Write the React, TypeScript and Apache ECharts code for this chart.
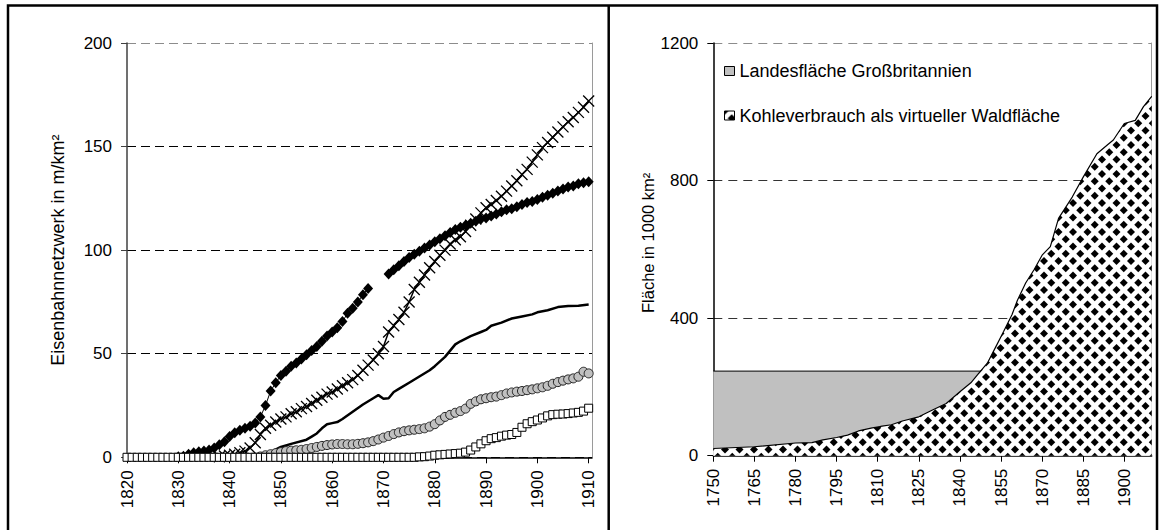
import React, { useEffect, useRef } from "react";
import * as echarts from "echarts";

// ---------- Left chart: railway network density (m/km²) ----------
const RAIL_YEARS = [
  1820, 1821, 1822, 1823, 1824, 1825, 1826, 1827, 1828, 1829,
  1830, 1831, 1832, 1833, 1834, 1835, 1836, 1837, 1838, 1839,
  1840, 1841, 1842, 1843, 1844, 1845, 1846, 1847, 1848, 1849,
  1850, 1851, 1852, 1853, 1854, 1855, 1856, 1857, 1858, 1859,
  1860, 1861, 1862, 1863, 1864, 1865, 1866, 1867, 1868, 1869,
  1870, 1871, 1872, 1873, 1874, 1875, 1876, 1877, 1878, 1879,
  1880, 1881, 1882, 1883, 1884, 1885, 1886, 1887, 1888, 1889,
  1890, 1891, 1892, 1893, 1894, 1895, 1896, 1897, 1898, 1899,
  1900, 1901, 1902, 1903, 1904, 1905, 1906, 1907, 1908, 1909,
  1910,
];
const RAIL_X_TICKS = [1820, 1830, 1840, 1850, 1860, 1870, 1880, 1890, 1900, 1910];
const RAIL_Y_TICKS = [0, 50, 100, 150, 200];

const DIAMONDS: (number | null)[] = [
  null, null, null, null, null, null, null, null, null, null,
  0.3, 0.5, 1.5, 2.2, 2.7, 3, 3.5, 4.5, 6, 7.5,
  10, 11.8, 13, 14, 15, 16.5, 19.5, 25, 32, 36,
  39.5, 41.5, 44, 45.5, 47.5, 49.5, 51.5, 53.5, 56, 58.5,
  60.5, 62.5, 65.5, 69.5, 72, 75, 78.5, 81.5, null, null,
  null, 88.5, 90.5, 92.5, 94.5, 96.5, 98, 99.5, 101, 102.5,
  104, 105.5, 107, 108.5, 110, 111, 112, 113, 114, 115,
  115.5, 116.5, 117.5, 118.5, 119.5, 120, 121, 122, 123, 123.5,
  124.5, 125.5, 126.5, 127.5, 128.5, 129.5, 130.5, 131, 132, 132.5,
  133,
];

const CROSSES: (number | null)[] = [
  null, null, null, null, null, null, null, null, null, null,
  null, null, null, null, null, null, null, null, 0.3, 0.6,
  1, 1.5, 2.2, 3, 4.5, 7, 11, 14, 15.5, 17,
  18.5, 19.5, 21, 22, 23.5, 24.5, 26, 27.5, 29, 30.5,
  31.5, 33, 34.5, 36, 37.5, 39.5, 42, 44.5, 47, 50,
  53.5, 60.5, 63.5, 66.5, 70, 75, 81, 84.5, 88, 91.5,
  94.5, 97.5, 100, 103, 105, 106.5, 109, 112, 115, 118,
  120.5, 122, 124, 126, 128.5, 131, 133.5, 136.5, 139, 142.5,
  146, 149.5, 152, 154.5, 157, 159.5, 162, 164, 166.5, 169,
  172,
];

// solid line without markers: [year, value]
const SOLID_LINE: [number, number][] = [
  [1844, 0], [1846, 0.8], [1848, 2.5], [1850, 5], [1852, 6.5], [1855, 8.5],
  [1856, 10], [1857, 11.5], [1858, 14], [1859, 16], [1860, 16.5], [1861, 17],
  [1862, 18.5], [1864, 22], [1866, 25.5], [1868, 28.5], [1869, 30], [1870, 28.3],
  [1871, 28.5], [1872, 31.5], [1873, 33], [1875, 36], [1877, 39], [1879, 42],
  [1880, 44], [1882, 48.5], [1883, 51.5], [1884, 54.5], [1885, 56], [1887, 58.5],
  [1889, 60.5], [1890, 61.5], [1891, 63.5], [1893, 65], [1895, 67], [1897, 68],
  [1899, 69], [1900, 70], [1902, 71], [1904, 72.5], [1906, 73], [1908, 73.2],
  [1910, 73.8],
];

const CIRCLES: (number | null)[] = [
  null, null, null, null, null, null, null, null, null, null,
  null, null, null, null, null, null, null, null, null, null,
  null, null, null, null, null, null, 0.4, 1, 1.5, 2,
  2.5, 3, 3.2, 3.4, 3.6, 4, 4.5, 5, 5.5, 5.9,
  6.2, 6.4, 6.4, 6.3, 6.3, 6.5, 6.8, 7.2, 7.8, 8.6,
  9.5, 10.3, 11.2, 12, 12.6, 13, 13.3, 13.6, 14, 14.8,
  16, 17.8, 19.5, 20.5, 21.5, 22.3, 23.5, 25.8, 27, 28,
  28.5, 29, 29.3, 30, 30.8, 31.3, 31.7, 32, 32.4, 32.8,
  33.3, 33.8, 34.5, 35.5, 36.3, 37, 37.6, 38.1, 38.9, 41.3,
  40.5,
];

const SQUARES: (number | null)[] = [
  0, 0, 0, 0, 0, 0, 0, 0, 0, 0,
  0, 0, 0, 0, 0, 0, 0, 0, 0, 0,
  0, 0, 0, 0, 0, 0, 0, 0, 0, 0,
  0, 0, 0, 0, 0, 0, 0, 0, 0, 0,
  0, 0, 0, 0, 0, 0, 0, 0, 0, 0,
  0, 0, 0, 0, 0, 0, 0, 0.2, 0.3, 0.6,
  1, 1.2, 1.4, 1.6, 1.8, 2, 2.5, 3.5, 5, 6.5,
  8, 9, 9.5, 10.2, 10.7, 11, 12, 14.5, 16.2, 17.2,
  18, 19, 20, 20.6, 20.8, 20.9, 21.1, 21.4, 21.7, 22.3,
  23.7,
];

// ---------- Right chart: area (1000 km²) ----------
const AREA_X_TICKS = [1750, 1765, 1780, 1795, 1810, 1825, 1840, 1855, 1870, 1885, 1900];
const AREA_Y_TICKS = [0, 400, 800, 1200];
const LAND_AREA: [number, number][] = [[1750, 246], [1910, 246]];
const COAL_FOREST: [number, number][] = [
  [1750, 21], [1765, 26], [1780, 37], [1786, 38], [1790, 46], [1795, 53],
  [1799, 60], [1803, 72], [1808, 81], [1811, 85], [1815, 90], [1819, 101],
  [1825, 113], [1830, 133], [1835, 152], [1840, 186], [1844, 212], [1847, 241],
  [1850, 269], [1853, 315], [1856, 362], [1859, 410], [1861, 452], [1864, 502],
  [1867, 540], [1870, 583], [1873, 608], [1876, 690], [1881, 752], [1885, 810],
  [1890, 878], [1894, 905], [1896, 918], [1900, 966], [1904, 975], [1907, 1015],
  [1910, 1045],
];
const LEGEND_NAMES = ["Landesfläche Großbritannien", "Kohleverbrauch als virtueller Waldfläche"];

const FONT = "'Liberation Sans', Arial, sans-serif";

function pairs(vals: (number | null)[]) {
  return RAIL_YEARS.map((y, i) => [y, vals[i] == null ? "-" : vals[i]]);
}

// black diamonds on white, as a repeating SVG tile
function makePattern() {
  const size = 29;
  const step = size / 4;
  const r = 4.0;
  let polys = "";
  for (let i = -1; i <= 5; i++) {
    for (let j = -1; j <= 5; j++) {
      if ((i + j) % 2 !== 0) continue;
      const cx = i * step;
      const cy = j * step;
      polys += `<polygon points="${cx},${cy - r} ${cx + r},${cy} ${cx},${cy + r} ${cx - r},${cy}" fill="#000"/>`;
    }
  }
  const svg =
    `<svg xmlns="http://www.w3.org/2000/svg" width="${size}" height="${size}" viewBox="0 0 ${size} ${size}">` +
    `<rect width="${size}" height="${size}" fill="#fff"/>${polys}</svg>`;
  const url = "data:image/svg+xml;charset=utf-8," + encodeURIComponent(svg);
  return { image: url, repeat: "repeat", imageWidth: size, imageHeight: size } as any;
}

export default function App() {
  const ref = useRef<HTMLDivElement>(null);

  useEffect(() => {
    const chart = echarts.init(ref.current!, null, { renderer: "svg" });
    const pattern = makePattern();
    const labelBase = { color: "#000", fontFamily: FONT, fontSize: 17 };
    const fmt = (v: number) => String(v);

    const option: any = {
      animation: false,
      backgroundColor: "#fff",
      textStyle: { fontFamily: FONT },
      grid: [
        { left: 127, top: 43, width: 465, height: 414.3, containLabel: false },
        { left: 713.3, top: 43, width: 438.4, height: 412.7, containLabel: false },
      ],
      legend: {
        orient: "vertical",
        left: 724,
        top: 61,
        padding: 0,
        itemWidth: 10,
        itemHeight: 9,
        itemGap: 24.5,
        icon: "rect",
        data: LEGEND_NAMES,
        itemStyle: { borderColor: "#000", borderWidth: 1 },
        textStyle: { color: "#000", fontFamily: FONT, fontSize: 18, lineHeight: 20 },
      },
      xAxis: [
        {
          type: "value",
          gridIndex: 0,
          min: 1820,
          max: 1910.65,
          axisLine: { show: true, lineStyle: { color: "#000", width: 1.5 } },
          axisTick: { show: true, length: 6, customValues: RAIL_X_TICKS, lineStyle: { color: "#000" } },
          axisLabel: { ...labelBase, rotate: 90, margin: 13, customValues: RAIL_X_TICKS, formatter: fmt },
          splitLine: { show: false },
        },
        {
          type: "value",
          gridIndex: 1,
          min: 1750,
          max: 1910,
          axisLine: { show: true, lineStyle: { color: "#000", width: 1.5 } },
          axisTick: { show: true, length: 6, customValues: AREA_X_TICKS, lineStyle: { color: "#000" } },
          axisLabel: { ...labelBase, rotate: 90, margin: 13, customValues: AREA_X_TICKS, formatter: fmt },
          splitLine: { show: false },
        },
      ],
      yAxis: [
        {
          type: "value",
          gridIndex: 0,
          min: RAIL_Y_TICKS[0],
          max: RAIL_Y_TICKS[RAIL_Y_TICKS.length - 1],
          interval: 50,
          name: "Eisenbahnnetzwerk in m/km²",
          nameLocation: "middle",
          nameGap: 60,
          nameTextStyle: { color: "#000", fontFamily: FONT, fontSize: 18 },
          axisLine: { show: true, lineStyle: { color: "#404040", width: 1.5 } },
          axisTick: { show: true, length: 6, lineStyle: { color: "#404040" } },
          axisLabel: { ...labelBase, margin: 15, formatter: fmt },
          splitLine: {
            show: true,
            lineStyle: { color: ["#000", "#000", "#000", "#000", "#8c8c8c"], type: [9, 5], width: 1 },
          },
        },
        {
          type: "value",
          gridIndex: 0,
          position: "right",
          min: 0,
          max: 200,
          axisLine: { show: true, lineStyle: { color: "#9a9a9a", width: 1 } },
          axisTick: { show: false },
          axisLabel: { show: false },
          splitLine: { show: false },
        },
        {
          type: "value",
          gridIndex: 1,
          min: AREA_Y_TICKS[0],
          max: AREA_Y_TICKS[AREA_Y_TICKS.length - 1],
          interval: 400,
          name: "Fläche in 1000 km²",
          nameLocation: "middle",
          nameGap: 57,
          nameTextStyle: { color: "#000", fontFamily: FONT, fontSize: 16.5, padding: [0, 0, 0, 13] },
          axisLine: { show: true, lineStyle: { color: "#000", width: 1.5 } },
          axisTick: { show: true, length: 6, lineStyle: { color: "#000" } },
          axisLabel: { ...labelBase, margin: 15, formatter: fmt },
          splitLine: {
            show: true,
            lineStyle: { color: ["#000", "#333", "#333", "#8c8c8c"], type: [9, 6], width: 1 },
          },
        },
        {
          type: "value",
          gridIndex: 1,
          position: "right",
          min: 0,
          max: 1200,
          axisLine: { show: true, lineStyle: { color: "#9a9a9a", width: 1 } },
          axisTick: { show: false },
          axisLabel: { show: false },
          splitLine: { show: false },
        },
      ],
      series: [
        {
          name: "diamonds",
          type: "line",
          xAxisIndex: 0,
          yAxisIndex: 0,
          data: pairs(DIAMONDS),
          showAllSymbol: true,
          symbol: "diamond",
          symbolSize: [10, 11],
          connectNulls: false,
          itemStyle: { color: "#000" },
          lineStyle: { color: "#000", width: 1 },
          z: 2,
        },
        {
          name: "crosses",
          type: "line",
          xAxisIndex: 0,
          yAxisIndex: 0,
          data: pairs(CROSSES),
          showAllSymbol: true,
          symbol: "path://M0,0L10,10M10,0L0,10",
          symbolSize: 11,
          itemStyle: { color: "none", borderColor: "#000", borderWidth: 1.3 },
          lineStyle: { color: "#000", width: 1.5 },
          z: 3,
        },
        {
          name: "solid",
          type: "line",
          xAxisIndex: 0,
          yAxisIndex: 0,
          data: SOLID_LINE,
          showSymbol: false,
          symbol: "none",
          lineStyle: { color: "#000", width: 2.5 },
          z: 4,
        },
        {
          name: "circles",
          type: "line",
          xAxisIndex: 0,
          yAxisIndex: 0,
          data: pairs(CIRCLES),
          showAllSymbol: true,
          symbol: "circle",
          symbolSize: 9,
          itemStyle: { color: "#c0c0c0", borderColor: "#222", borderWidth: 1 },
          lineStyle: { color: "#000", width: 1 },
          z: 5,
        },
        {
          name: "squares",
          type: "line",
          xAxisIndex: 0,
          yAxisIndex: 0,
          data: pairs(SQUARES),
          showAllSymbol: true,
          symbol: "rect",
          symbolSize: 8,
          itemStyle: { color: "#fff", borderColor: "#000", borderWidth: 1 },
          lineStyle: { color: "#000", width: 1 },
          z: 6,
        },
        {
          name: LEGEND_NAMES[0],
          type: "line",
          xAxisIndex: 1,
          yAxisIndex: 2,
          data: LAND_AREA,
          symbol: "none",
          showSymbol: false,
          itemStyle: { color: "#c0c0c0" },
          lineStyle: { color: "#000", width: 1 },
          areaStyle: { color: "#c0c0c0", opacity: 1 },
          z: 2,
        },
        {
          name: LEGEND_NAMES[1],
          type: "line",
          xAxisIndex: 1,
          yAxisIndex: 2,
          data: COAL_FOREST,
          symbol: "none",
          showSymbol: false,
          itemStyle: { color: pattern },
          lineStyle: { color: "#000", width: 1.2 },
          areaStyle: { color: pattern, opacity: 1 },
          z: 3,
        },
      ],
      graphic: [
        {
          type: "rect",
          silent: true,
          z: 100,
          shape: { x: 8, y: 5.5, width: 1149, height: 545 },
          style: { fill: "none", stroke: "#000", lineWidth: 2.5 },
        },
        {
          type: "line",
          silent: true,
          z: 100,
          shape: { x1: 608.7, y1: 5, x2: 608.7, y2: 535 },
          style: { stroke: "#000", lineWidth: 2.5 },
        },
      ],
    };

    chart.setOption(option);
    return () => chart.dispose();
  }, []);

  return (
    <div
      ref={ref}
      style={{ position: "absolute", left: 0, top: 0, width: 1159, height: 530, background: "#fff" }}
    />
  );
}
